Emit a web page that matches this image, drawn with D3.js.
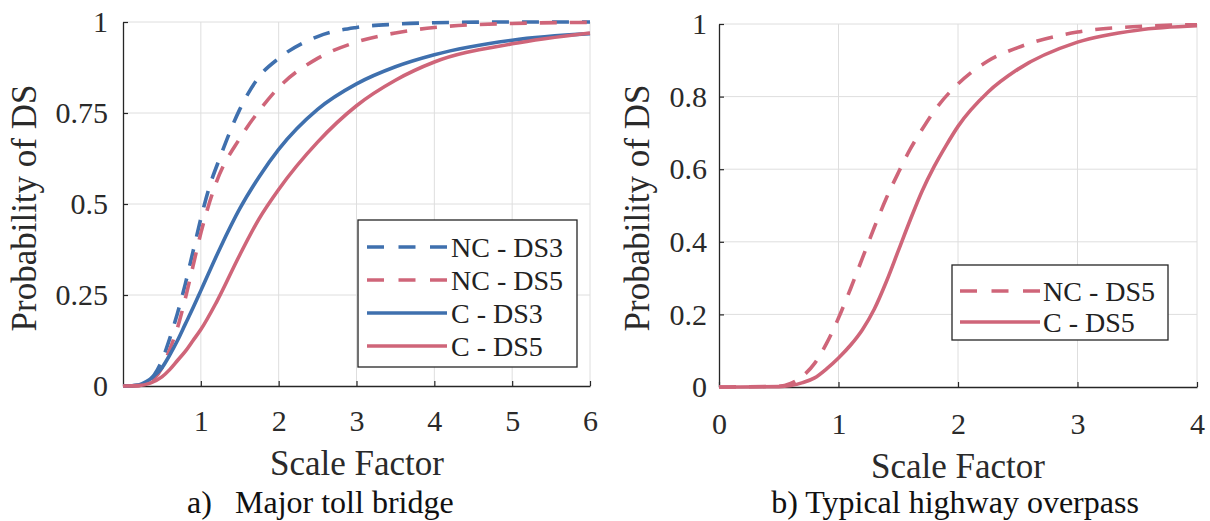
<!DOCTYPE html>
<html>
<head>
<meta charset="utf-8">
<script src="https://cdn.jsdelivr.net/npm/d3@7"></script>
</head>
<body style="margin:0">
<svg id="chart" width="1210" height="521" style="display:block"></svg>
<script>
// ---------------- Data ----------------
// Panel a) Major toll bridge
const aNC_DS3_x = [0, 0.2, 0.3, 0.4, 0.5, 0.6, 0.7, 0.8, 0.9, 1.0, 1.1, 1.25, 1.5, 1.75, 2.0, 2.5, 3.0, 3.5, 4, 5, 6];
const aNC_DS3_y = [0, 0.002, 0.01, 0.03, 0.07, 0.13, 0.2, 0.28, 0.37, 0.46, 0.54, 0.63, 0.76, 0.85, 0.90, 0.96, 0.985, 0.994, 0.998, 1, 1];

const aNC_DS5_x = [0, 0.2, 0.3, 0.4, 0.5, 0.6, 0.7, 0.8, 0.9, 1.0, 1.2, 1.5, 1.8, 2.0, 2.5, 3.0, 3.5, 4, 5, 6];
const aNC_DS5_y = [0, 0.001, 0.006, 0.02, 0.05, 0.1, 0.16, 0.24, 0.33, 0.42, 0.56, 0.68, 0.77, 0.82, 0.9, 0.945, 0.97, 0.985, 0.996, 0.999];

const aC_DS3_x = [0, 0.2, 0.3, 0.4, 0.5, 0.6, 0.7, 0.8, 0.9, 1.0, 1.25, 1.5, 1.75, 2.0, 2.5, 3.0, 3.5, 4, 5, 6];
const aC_DS3_y = [0, 0.003, 0.012, 0.028, 0.05, 0.085, 0.125, 0.17, 0.215, 0.262, 0.38, 0.487, 0.575, 0.65, 0.76, 0.83, 0.877, 0.91, 0.95, 0.968];

const aC_DS5_x = [0, 0.2, 0.35, 0.5, 0.6, 0.7, 0.8, 0.9, 1.0, 1.2, 1.5, 1.75, 2.0, 2.5, 3.0, 3.5, 4, 5, 6];
const aC_DS5_y = [0, 0.001, 0.008, 0.025, 0.045, 0.07, 0.095, 0.125, 0.155, 0.23, 0.36, 0.46, 0.54, 0.67, 0.77, 0.84, 0.89, 0.94, 0.97];

// Panel b) Typical highway overpass
const bNC_DS5_x = [0, 0.5, 0.6, 0.7, 0.8, 0.9, 1.0, 1.1, 1.2, 1.3, 1.4, 1.5, 1.6, 1.7, 1.8, 2.0, 2.25, 2.5, 3.0, 3.5, 4];
const bNC_DS5_y = [0, 0.002, 0.01, 0.03, 0.065, 0.12, 0.19, 0.27, 0.355, 0.44, 0.52, 0.59, 0.655, 0.71, 0.76, 0.835, 0.898, 0.935, 0.978, 0.993, 0.998];

const bC_DS5_x = [0, 0.5, 0.6, 0.7, 0.8, 0.9, 1.0, 1.1, 1.2, 1.3, 1.4, 1.5, 1.6, 1.7, 1.8, 1.9, 2.0, 2.25, 2.5, 3.0, 3.5, 4];
const bC_DS5_y = [0, 0.001, 0.004, 0.012, 0.025, 0.05, 0.08, 0.115, 0.158, 0.215, 0.29, 0.375, 0.46, 0.54, 0.607, 0.665, 0.718, 0.812, 0.875, 0.95, 0.983, 0.995];

// Tick labels
const aXTicks = [1, 2, 3, 4, 5, 6];
const aXGrid = [1, 2, 3, 4, 5, 6];
const aYTicks = [0, 0.25, 0.5, 0.75, 1];
const aYTickLabels = ["0", "0.25", "0.5", "0.75", "1"];
const bXTicks = [0, 1, 2, 3, 4];
const bYTicks = [0, 0.2, 0.4, 0.6, 0.8, 1];
const bYTickLabels = ["0", "0.2", "0.4", "0.6", "0.8", "1"];

// Legends
const aLegendLabels = ["NC - DS3", "NC - DS5", "C - DS3", "C - DS5"];
const bLegendLabels = ["NC - DS5", "C - DS5"];

// Text
const yLabel = "Probability of DS";
const xLabel = "Scale Factor";
const captionA_tag = "a)";
const captionA_text = "Major toll bridge";
const captionB = "b) Typical highway overpass";

// ---------------- Styles ----------------
const FONT = "Liberation Serif";
const BLUE = "#3f70ae";
const RED = "#cf6579";
const DASH = "17,13";
const LDASH = "17,14.5";
const LW = 3.6;
const AXIS = "#262626";
const GRID = "#dedede";

const svg = d3.select("#chart");

function zip(xs, ys) { return xs.map((x, i) => [x, ys[i]]); }
function txt(sel) { return sel.attr("font-family", FONT).style("font-family", FONT); }

function panel(cfg) {
  const x = d3.scaleLinear().domain(cfg.xDomain).range(cfg.xRange);
  const y = d3.scaleLinear().domain([0, 1]).range(cfg.yRange);
  const g = svg.append("g");

  // grid
  g.append("g").selectAll("line").data(cfg.xGrid).join("line")
    .attr("x1", d => x(d)).attr("x2", d => x(d))
    .attr("y1", y(0)).attr("y2", y(1))
    .attr("stroke", GRID).attr("stroke-width", 1);
  g.append("g").selectAll("line").data(cfg.yTicks.filter(d => d > 0)).join("line")
    .attr("x1", x(cfg.xDomain[0])).attr("x2", x(cfg.xDomain[1]))
    .attr("y1", d => y(d)).attr("y2", d => y(d))
    .attr("stroke", GRID).attr("stroke-width", 1);

  // axes
  const xAxis = d3.axisBottom(x).tickValues(cfg.xTicks).tickFormat(d3.format("d"))
    .tickSizeInner(-5).tickSizeOuter(0).tickPadding(cfg.xPad);
  const yAxis = d3.axisLeft(y).tickValues(cfg.yTicks)
    .tickFormat((d, i) => cfg.yTickLabels[i])
    .tickSizeInner(-5).tickSizeOuter(0).tickPadding(cfg.yPad);

  const gx = g.append("g").attr("transform", `translate(0,${y(0)})`).call(xAxis);
  const gy = g.append("g").attr("transform", `translate(${x(cfg.xDomain[0])},0)`).call(yAxis);
  [gx, gy].forEach(a => {
    a.attr("font-family", FONT).attr("font-size", 30);
    a.select(".domain").attr("stroke", AXIS).attr("stroke-width", 1.3);
    a.selectAll(".tick line").attr("stroke", AXIS).attr("stroke-width", 1.2);
    txt(a.selectAll(".tick text")).attr("font-size", 30).attr("fill", "#2a2a2a");
  });

  // lines
  const line = d3.line().x(d => x(d[0])).y(d => y(d[1])).curve(d3.curveMonotoneX);
  g.append("g").selectAll("path").data(cfg.series).join("path")
    .attr("d", s => line(zip(s.x, s.y)))
    .attr("fill", "none")
    .attr("stroke", s => s.color)
    .attr("stroke-width", LW)
    .attr("stroke-dasharray", s => s.dashed ? DASH : null)
    .attr("stroke-linejoin", "round");

  // y label
  txt(svg.append("text"))
    .attr("transform", `translate(${cfg.yLabelX},${cfg.yLabelY}) rotate(-90)`)
    .attr("text-anchor", "middle").attr("font-size", 35).attr("fill", "#2a2a2a")
    .text(yLabel);
  // x label
  txt(svg.append("text"))
    .attr("x", cfg.xLabelX).attr("y", cfg.xLabelY)
    .attr("text-anchor", "middle").attr("font-size", 35).attr("fill", "#2a2a2a")
    .text(xLabel);

  // legend
  const L = cfg.legend;
  const lg = svg.append("g");
  lg.append("rect").attr("x", L.x).attr("y", L.y).attr("width", L.w).attr("height", L.h)
    .attr("fill", "#fff").attr("stroke", AXIS).attr("stroke-width", 1.3);
  const rows = lg.selectAll("g").data(cfg.series).join("g")
    .attr("transform", (d, i) => `translate(0,${L.row0 + i * L.rowStep})`);
  rows.append("line")
    .attr("x1", L.lx1).attr("x2", L.lx2).attr("y1", 0).attr("y2", 0)
    .attr("stroke", d => d.color).attr("stroke-width", LW)
    .attr("stroke-dasharray", d => d.dashed ? LDASH : null);
  txt(rows.append("text")).attr("x", L.tx).attr("y", 0).attr("dy", "0.35em")
    .attr("font-size", 28).attr("fill", "#222").text((d, i) => cfg.legendLabels[i]);
}

panel({
  xDomain: [0, 6], xRange: [123, 590], yRange: [386, 22],
  xTicks: aXTicks, xGrid: aXGrid, yTicks: aYTicks, yTickLabels: aYTickLabels,
  xPad: 24, yPad: 15,
  series: [
    { x: aNC_DS3_x, y: aNC_DS3_y, color: BLUE, dashed: true },
    { x: aNC_DS5_x, y: aNC_DS5_y, color: RED, dashed: true },
    { x: aC_DS3_x, y: aC_DS3_y, color: BLUE, dashed: false },
    { x: aC_DS5_x, y: aC_DS5_y, color: RED, dashed: false }
  ],
  legendLabels: aLegendLabels,
  legend: { x: 358, y: 220, w: 219, h: 147, row0: 247, rowStep: 33, lx1: 367, lx2: 447, tx: 451 },
  yLabelX: 36, yLabelY: 208, xLabelX: 357, xLabelY: 475
});

panel({
  xDomain: [0, 4], xRange: [719, 1197], yRange: [387, 24],
  xTicks: bXTicks, xGrid: bXTicks.filter(d => d > 0), yTicks: bYTicks, yTickLabels: bYTickLabels,
  xPad: 26, yPad: 12,
  series: [
    { x: bNC_DS5_x, y: bNC_DS5_y, color: RED, dashed: true },
    { x: bC_DS5_x, y: bC_DS5_y, color: RED, dashed: false }
  ],
  legendLabels: bLegendLabels,
  legend: { x: 952, y: 265, w: 216, h: 75, row0: 291, rowStep: 31, lx1: 960, lx2: 1040, tx: 1043 },
  yLabelX: 649, yLabelY: 208, xLabelX: 958, xLabelY: 478
});

// captions
txt(svg.append("text")).attr("x", 187).attr("y", 513).attr("font-size", 32).attr("fill", "#111").text(captionA_tag);
txt(svg.append("text")).attr("x", 235).attr("y", 513).attr("font-size", 32).attr("fill", "#111").text(captionA_text);
txt(svg.append("text")).attr("x", 955).attr("y", 513).attr("text-anchor", "middle").attr("font-size", 32).attr("fill", "#111").text(captionB);
</script>
</body>
</html>
